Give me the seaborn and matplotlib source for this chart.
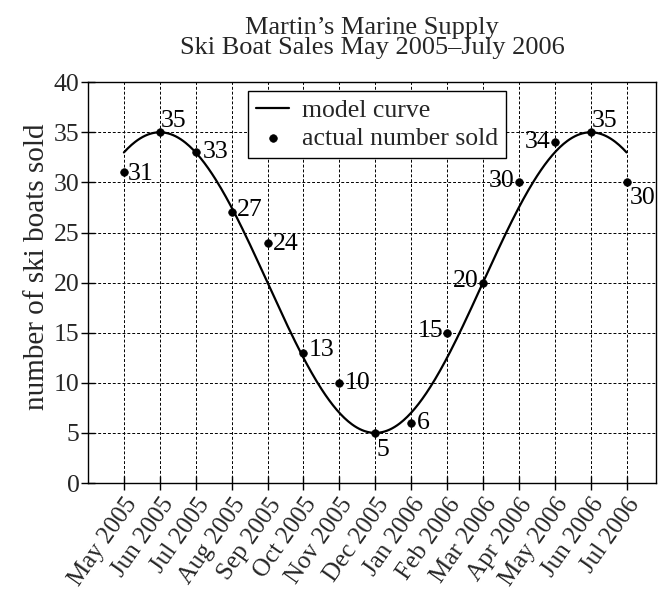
import numpy as np
import pandas as pd
import matplotlib
matplotlib.use("Agg")
import matplotlib.pyplot as plt
import seaborn as sns

months = ["May 2005", "Jun 2005", "Jul 2005", "Aug 2005", "Sep 2005", "Oct 2005",
          "Nov 2005", "Dec 2005", "Jan 2006", "Feb 2006", "Mar 2006", "Apr 2006",
          "May 2006", "Jun 2006", "Jul 2006"]
actual_sold = [31, 35, 33, 27, 24, 13, 10, 5, 6, 15, 20, 30, 34, 35, 30]
# model curve parameters: midline, amplitude, period (months), month index of peak
model_midline = 20
model_amplitude = 15
model_period = 12
model_peak = 1
yticks = [0, 5, 10, 15, 20, 25, 30, 35, 40]

sns.set_theme(style="white")
plt.rcParams["font.family"] = ["Liberation Serif", "DejaVu Serif"]

fig = plt.figure(figsize=(6.59, 6.0), dpi=100)
ax = fig.add_axes([0.1335, 0.195, 0.862, 0.668])

xi = np.arange(len(months))
xs = np.linspace(0, len(months) - 1, 400)
model_df = pd.DataFrame({"x": xs,
                         "y": model_midline + model_amplitude * np.cos(2 * np.pi * (xs - model_peak) / model_period)})
act_df = pd.DataFrame({"x": xi, "y": actual_sold})

sns.lineplot(data=model_df, x="x", y="y", ax=ax, color="black", lw=1.6, label="model curve")
sns.scatterplot(data=act_df, x="x", y="y", ax=ax, color="black", s=30, edgecolor="black",
                linewidth=0.5, label="actual number sold", zorder=5)

FS = 18.5
# annotation offsets (points)
offsets = {0: (3, -1, "left"), 1: (1, 8, "left"), 2: (5, 0, "left"), 3: (4, 2, "left"),
           4: (4, -1, "left"), 5: (4, 2, "left"), 6: (4, 0, "left"), 7: (1, -12, "left"),
           8: (4, 0, "left"), 9: (-3, 1, "right"), 10: (-3, 1, "right"), 11: (-3, 1, "right"),
           12: (-3, 0, "right"), 13: (1, 8, "left"), 14: (2, -11, "left")}
for i, v in enumerate(actual_sold):
    dx, dy, ha = offsets[i]
    ax.annotate(str(v), (i, v), xytext=(dx, dy), textcoords="offset points",
                ha=ha, va="center", fontsize=FS, color="black")

ax.set_xlim(-1, 14.82)
ax.set_ylim(0, 40)
ax.set_yticks(yticks)
ax.set_yticklabels([str(t) for t in yticks], fontsize=FS)
ax.set_xticks(xi)
ax.set_xticklabels(months, rotation=55, ha="right", rotation_mode="anchor", fontsize=18)
ax.tick_params(axis="y", direction="inout", length=10, width=1, color="black", left=True, pad=1)
ax.tick_params(axis="x", direction="inout", length=10, width=1, color="black", bottom=True, pad=3)
ax.grid(True, color="black", linestyle=(0, (3, 2)), linewidth=0.7)
for s in ax.spines.values():
    s.set_color("black")
    s.set_linewidth(1.0)
ax.set_xlabel("")
ax.set_ylabel("number of ski boats sold", fontsize=21)
ax.yaxis.set_label_coords(-0.066, 0.54)
ax.set_title("Martin\u2019s Marine Supply\nSki Boat Sales May 2005\u2013July 2006",
             fontsize=19, linespacing=0.9, pad=20)

leg = ax.legend(loc="upper left", bbox_to_anchor=(0.282, 0.978), fontsize=FS, frameon=True,
                fancybox=False, framealpha=1, edgecolor="black", handlelength=1.3,
                handletextpad=0.5, borderpad=0.3, labelspacing=0.2, borderaxespad=0)
leg.get_frame().set_linewidth(1.0)

fig.savefig("out.png", dpi=100)
